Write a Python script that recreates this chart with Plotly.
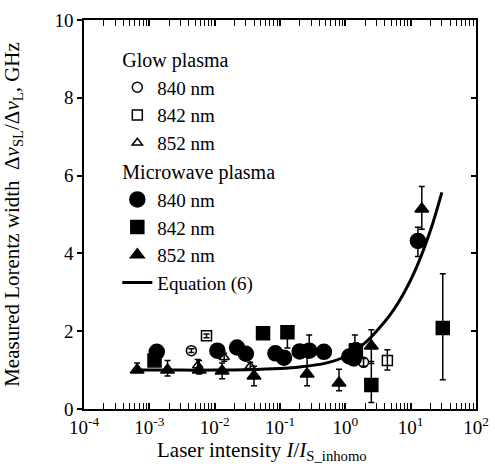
import plotly.graph_objects as go

# ---- data ----
glow840_x = [0.0044, 1.9]
glow840_y = [1.5, 1.2]
glow840_up = [0.05, 0.1]
glow840_dn = [0.05, 0.1]

glow842_x = [0.0075, 1.4, 4.4]
glow842_y = [1.88, 1.55, 1.25]
glow842_up = [0.05, 0.35, 0.27]
glow842_dn = [0.05, 0.2, 0.25]

glow852_x = [0.0055, 0.014, 0.035]
glow852_y = [1.12, 1.33, 1.1]
glow852_up = [0.15, 0.1, 0.1]
glow852_dn = [0.1, 0.1, 0.1]

mw840_x = [0.0013, 0.011, 0.022, 0.03, 0.085, 0.115, 0.2, 0.28, 0.47, 1.15, 1.35, 12.9]
mw840_y = [1.47, 1.5, 1.58, 1.42, 1.43, 1.32, 1.48, 1.5, 1.47, 1.35, 1.3, 4.32]
mw840_up = [0.05, 0.05, 0.05, 0.05, 0.05, 0.05, 0.1, 0.4, 0.05, 0.1, 0.1, 0.35]
mw840_dn = [0.05, 0.05, 0.05, 0.05, 0.05, 0.05, 0.1, 0.1, 0.05, 0.1, 0.1, 0.4]

mw842_x = [0.0012, 0.055, 0.13, 1.45, 2.5, 31]
mw842_y = [1.25, 1.95, 1.97, 1.5, 0.62, 2.08]
mw842_up = [0.05, 0.05, 0.05, 0.2, 0.6, 1.4]
mw842_dn = [0.05, 0.05, 0.4, 0.2, 0.45, 1.33]

mw852_x = [0.00065, 0.0019, 0.0058, 0.013, 0.04, 0.26, 0.8, 2.5, 14.8]
mw852_y = [1.0, 1.0, 1.0, 0.98, 0.85, 0.9, 0.67, 1.62, 5.14]
mw852_up = [0.18, 0.25, 0.25, 0.2, 0.25, 0.6, 0.35, 0.42, 0.58]
mw852_dn = [0.05, 0.15, 0.1, 0.2, 0.25, 0.3, 0.2, 0.45, 0.52]

eq6_x = [0.0006, 0.001, 0.003, 0.01, 0.03, 0.1, 0.2, 0.5, 1, 2, 3, 5, 8, 12, 20, 30]
eq6_y = [1.0, 1.0, 1.0, 1.0, 1.01, 1.04, 1.08, 1.18, 1.35, 1.7, 2.0, 2.45, 3.0, 3.6, 4.58, 5.57]

x_tickvals = [1e-4, 1e-3, 1e-2, 1e-1, 1, 10, 100]
x_ticktext = ["10<sup>-4</sup>", "10<sup>-3</sup>", "10<sup>-2</sup>", "10<sup>-1</sup>",
              "10<sup>0</sup>", "10<sup>1</sup>", "10<sup>2</sup>"]

FONT = "Liberation Serif"
LEG = 19
fig = go.Figure()


def pts(x, y, up, dn, name, symbol, size, group, gtitle=None):
    eb = dict(type="data", symmetric=False, array=up, arrayminus=dn,
              color="black", thickness=1.5, width=3)
    kw = {}
    if gtitle:
        kw["legendgrouptitle"] = dict(text=gtitle, font=dict(family=FONT, size=LEG + 1, color="black"))
    fig.add_trace(go.Scatter(
        x=x, y=y, mode="markers", name=name, legendgroup=group,
        marker=dict(symbol=symbol, size=size, color="black",
                    line=dict(color="black", width=1.5)),
        error_y=eb, **kw))


pts(glow840_x, glow840_y, glow840_up, glow840_dn, "840 nm", "circle-open", 10, "glow", "Glow plasma")
pts(glow842_x, glow842_y, glow842_up, glow842_dn, "842 nm", "square-open", 10, "glow")
pts(glow852_x, glow852_y, glow852_up, glow852_dn, "852 nm", "triangle-up-open", 9, "glow")
pts(mw840_x, mw840_y, mw840_up, mw840_dn, "840 nm", "circle", 15, "mw", "Microwave plasma")
pts(mw842_x, mw842_y, mw842_up, mw842_dn, "842 nm", "square", 13, "mw")
pts(mw852_x, mw852_y, mw852_up, mw852_dn, "852 nm", "triangle-up", 12, "mw")

fig.add_trace(go.Scatter(x=eq6_x, y=eq6_y, mode="lines", name="Equation (6)",
                         line=dict(color="black", width=3, shape="spline"),
                         legendgroup="eq"))

# invisible trace for the right-hand axis
fig.add_trace(go.Scatter(x=[None], y=[None], yaxis="y2", showlegend=False, hoverinfo="skip"))

fig.update_layout(
    width=495, height=464,
    margin=dict(l=84, r=19, t=20, b=55, autoexpand=False),
    paper_bgcolor="white", plot_bgcolor="white",
    font=dict(family=FONT, size=18, color="black"),
    showlegend=True,
    legend=dict(x=0.085, y=0.95, xanchor="left", yanchor="top",
                bgcolor="rgba(0,0,0,0)", font=dict(family=FONT, size=LEG, color="black"),
                traceorder="grouped", tracegroupgap=0, itemwidth=30),
    xaxis=dict(type="log", range=[-4, 2], tickmode="array", automargin=False,
               tickvals=x_tickvals, ticktext=x_ticktext,
               showgrid=False, zeroline=False,
               showline=True, linecolor="black", linewidth=1.5, mirror="allticks",
               ticks="inside", ticklen=6, tickwidth=1.5, tickcolor="black",
               minor=dict(ticks="inside", ticklen=4, tickwidth=1.2, tickcolor="black",
                          dtick="D1", showgrid=False),
               tickfont=dict(family=FONT, size=19)),
    yaxis=dict(range=[0, 10], dtick=2, showgrid=False, zeroline=False, automargin=False,
               showline=True, linecolor="black", linewidth=1.5, mirror=True,
               ticks="outside", ticklen=5, tickwidth=1.5, tickcolor="black",
               tickfont=dict(family=FONT, size=19),
               title=dict(text="Measured Lorentz width  Δ<i>ν</i><sub>SL</sub>/Δ<i>ν</i><sub>L</sub>, GHz",
                          font=dict(family=FONT, size=21), standoff=32)),
    yaxis2=dict(range=[0, 10], dtick=2, overlaying="y", side="right", automargin=False,
                showgrid=False, zeroline=False, showline=False, showticklabels=False,
                ticks="inside", ticklen=5, tickwidth=1.5, tickcolor="black"),
    annotations=[dict(text="Laser intensity <i>I</i>/<i>I</i><sub>S_inhomo</sub>",
                      xref="paper", yref="paper", x=0.454, y=-0.108,
                      xanchor="center", yanchor="middle", showarrow=False,
                      font=dict(family=FONT, size=21, color="black"))],
)

fig.write_html("out.html", config={"displayModeBar": False},
               post_script="document.body.style.margin='0';")
